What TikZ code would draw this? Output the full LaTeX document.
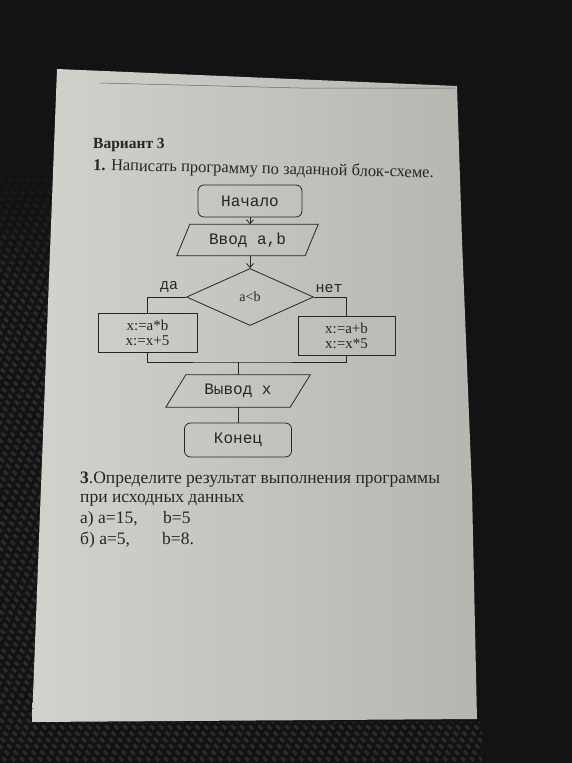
\documentclass[tikz,border=0pt]{standalone}
\usepackage{fontspec}
\setmainfont{Liberation Serif}
\newfontfamily\monofam{Liberation Mono}
\usetikzlibrary{shapes.geometric,arrows.meta,fadings}
\definecolor{bgdark}{HTML}{131313}
\definecolor{carbon}{HTML}{2c2c2c}
\definecolor{paperL}{HTML}{d3d1cb}
\definecolor{paperR}{HTML}{b7b5af}
\definecolor{ink}{HTML}{262626}
\tikzset{
  inkline/.style={draw=ink, line width=0.8pt},
  term/.style={inkline, rounded corners=6pt, inner sep=0pt, font=\monofam\fontsize{16}{16}\selectfont, text=ink},
  iobox/.style={inner sep=0pt, font=\monofam\fontsize{16}{16}\selectfont, text=ink},
  proc/.style={inkline, inner sep=0pt, align=center, font=\fontsize{15}{15}\selectfont, text=ink},
  decbox/.style={inkline, diamond, inner sep=0pt, font=\fontsize{14}{14}\selectfont, text=ink},
  lbl/.style={inner sep=0pt, font=\monofam\fontsize{15}{15}\selectfont, text=ink},
  bodytext/.style={inner sep=0pt, anchor=base west, text=ink, font=\fontsize{17.5}{17.5}\selectfont},
  arr/.style={inkline, -{Straight Barb[length=4pt,width=7pt]}},
}
\begin{document}
\begin{tikzpicture}[x=1pt,y=-1pt]
\useasboundingbox (0,0) rectangle (572,763);
\fill[bgdark] (0,0) rectangle (572,763);
% carbon texture
\begin{scope}
\clip (0,150) -- (56,150) -- (32,722) -- (482,722) -- (482,763) -- (0,763) -- cycle;
\foreach \i in {-800,-791,...,560} {
  \draw[carbon, line width=3pt, dash pattern=on 5pt off 4pt] (\i,0) -- ++(800,800);
}
\end{scope}
\foreach \k in {0,...,9} {
  \pgfmathsetmacro{\op}{1-\k/10}
  \fill[bgdark, opacity=\op] (0,150+\k*14) rectangle (60,164+\k*14);
}
% paper
\shade[left color=paperL, right color=paperR]
  (57,69) -- (457,86) -- (462,240) -- (472,490) -- (477,719) -- (32,722) -- cycle;
\draw[ink!70, line width=0.5pt] (100,83) -- (300,88) -- (455,88);

% headings
\node[bodytext, font=\bfseries\fontsize{15.5}{15.5}\selectfont] (title) at (93,148) {Вариант 3};
\node[bodytext, font=\fontsize{16.5}{16.5}\selectfont, rotate=-1.3] (task1) at (93,170) {\textbf{1.} Написать программу по заданной блок-схеме.};

% flowchart
\node[term, minimum width=104pt, minimum height=32pt] (start) at (250,201) {Начало};
\node[iobox, minimum width=128pt, minimum height=31pt] (in) at (247.5,240) {Ввод a,b};
\draw[inkline] ([xshift=6.5pt]in.north west) -- ([xshift=6.5pt]in.north east) -- ([xshift=-6.5pt]in.south east) -- ([xshift=-6.5pt]in.south west) -- cycle;
\node[decbox, minimum width=127pt, minimum height=57pt] (dec) at (250,297) {a<b};
\node[lbl] (yes) at (169,287) {да};
\node[lbl] (no) at (329,289) {нет};
\node[proc, minimum width=99pt, minimum height=39pt] (lbox) at (147.5,332.5) {x:=a*b\\x:=x+5};
\node[proc, minimum width=97pt, minimum height=39pt] (rbox) at (346.5,335.5) {x:=a+b\\x:=x*5};
\coordinate (merge) at (238,362);
\node[iobox, minimum width=124pt, minimum height=32pt] (out) at (238,391) {Вывод x};
\draw[inkline] ([xshift=10pt]out.north west) -- ([xshift=10pt]out.north east) -- ([xshift=-10pt]out.south east) -- ([xshift=-10pt]out.south west) -- cycle;
\node[term, minimum width=107pt, minimum height=34pt] (end) at (238,440) {Конец};

\draw[arr] (start.south) -- (start.south |- in.north);
\draw[arr] (dec.north |- in.south) -- (dec.north);
\draw[inkline] (dec.west) -| (lbox.north);
\draw[inkline] (dec.east) -| (rbox.north);
\draw[inkline] (lbox.south) |- (merge) -| (rbox.south);
\draw[inkline] (merge) -- (out.north);
\draw[inkline] (out.south) -- (end.north);

% task 3
\node[bodytext] (task3) at (80,483) {\textbf{3}.Определите результат выполнения программы};
\node[bodytext] (task3b) at (80,502) {при исходных данных};
\node[bodytext] (va) at (80,523) {а) a=15,};
\node[bodytext] (vab) at (163,523) {b=5};
\node[bodytext] (vb) at (80,544) {б) a=5,};
\node[bodytext] (vbb) at (162,544) {b=8.};
\end{tikzpicture}
\end{document}
